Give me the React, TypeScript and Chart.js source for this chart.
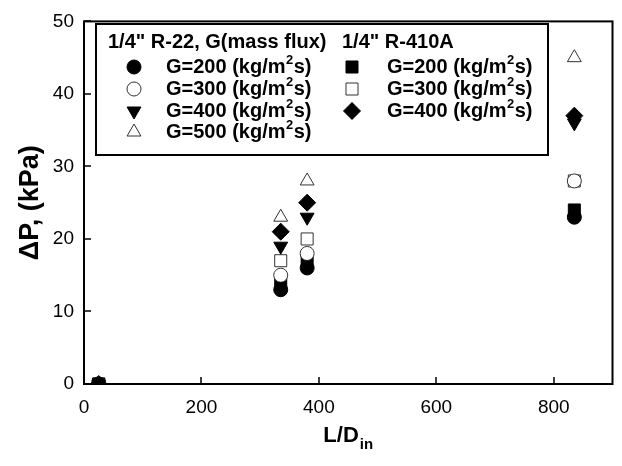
import React, { useEffect, useRef } from 'react';
import { Chart, registerables } from 'chart.js';

Chart.register(...registerables);

// ---- data ----
const X_POS = [25, 335, 380, 835];
const R22_G200 = [0, 13, 16, 23];
const R22_G300 = [0, 15, 18, 28];
const R22_G400 = [0, 19, 23, 36];
const R22_G500 = [0, 23, 28, 45];
const R410A_G200 = [0, 14, 17, 24];
const R410A_G300 = [0, 17, 20, 28];
const R410A_G400 = [0, 21, 25, 37];
const X_TICKS = [0, 200, 400, 600, 800];
const Y_TICKS = [0, 10, 20, 30, 40, 50];
const LEGEND_TITLES = ['1/4" R-22, G(mass flux)', '1/4" R-410A'];
const LEGEND_R22 = ['G=200', 'G=300', 'G=400', 'G=500'];
const LEGEND_R410A = ['G=200', 'G=300', 'G=400'];
const UNIT_MAIN = ' (kg/m';
const UNIT_SUP = '2';
const UNIT_END = 's)';

type Marker = { style: string; rotation: number; filled: boolean; radius: number };

const M_CIRCLE_F: Marker = { style: 'circle', rotation: 0, filled: true, radius: 7 };
const M_CIRCLE_O: Marker = { style: 'circle', rotation: 0, filled: false, radius: 7 };
const M_TRI_DOWN_F: Marker = { style: 'triangle', rotation: 180, filled: true, radius: 8 };
const M_TRI_UP_O: Marker = { style: 'triangle', rotation: 0, filled: false, radius: 8 };
const M_SQ_F: Marker = { style: 'rect', rotation: 0, filled: true, radius: 8.5 };
const M_SQ_O: Marker = { style: 'rect', rotation: 0, filled: false, radius: 8.5 };
const M_DIA_F: Marker = { style: 'rectRot', rotation: 0, filled: true, radius: 8.5 };

const SERIES = [
  { label: 'R-22 G=200', values: R22_G200, marker: M_CIRCLE_F },
  { label: 'R-22 G=300', values: R22_G300, marker: M_CIRCLE_O },
  { label: 'R-22 G=400', values: R22_G400, marker: M_TRI_DOWN_F },
  { label: 'R-22 G=500', values: R22_G500, marker: M_TRI_UP_O },
  { label: 'R-410A G=200', values: R410A_G200, marker: M_SQ_F },
  { label: 'R-410A G=300', values: R410A_G300, marker: M_SQ_O },
  { label: 'R-410A G=400', values: R410A_G400, marker: M_DIA_F },
];

const FONT = '"Liberation Sans", Arial, sans-serif';
const OPEN_STROKE = '#333';

function drawMarker(ctx: CanvasRenderingContext2D, m: Marker, x: number, y: number) {
  const r = m.radius;
  const rad = (m.rotation * Math.PI) / 180;
  ctx.save();
  ctx.beginPath();
  if (m.style === 'circle') {
    ctx.arc(x, y, r, 0, Math.PI * 2);
  } else if (m.style === 'rect') {
    const s = Math.SQRT1_2 * r;
    ctx.rect(x - s, y - s, 2 * s, 2 * s);
  } else if (m.style === 'rectRot') {
    ctx.moveTo(x - r, y);
    ctx.lineTo(x, y - r);
    ctx.lineTo(x + r, y);
    ctx.lineTo(x, y + r);
    ctx.closePath();
  } else if (m.style === 'triangle') {
    let a = rad;
    ctx.moveTo(x + Math.sin(a) * r, y - Math.cos(a) * r);
    a += (2 * Math.PI) / 3;
    ctx.lineTo(x + Math.sin(a) * r, y - Math.cos(a) * r);
    a += (2 * Math.PI) / 3;
    ctx.lineTo(x + Math.sin(a) * r, y - Math.cos(a) * r);
    ctx.closePath();
  }
  ctx.fillStyle = m.filled ? '#000' : '#fff';
  ctx.strokeStyle = m.filled ? '#000' : OPEN_STROKE;
  ctx.lineWidth = 1;
  ctx.fill();
  ctx.stroke();
  ctx.restore();
}

function drawUnitLabel(ctx: CanvasRenderingContext2D, head: string, x: number, y: number) {
  ctx.save();
  ctx.fillStyle = '#000';
  ctx.textBaseline = 'middle';
  ctx.textAlign = 'left';
  ctx.font = `bold 20px ${FONT}`;
  const t1 = head + UNIT_MAIN;
  ctx.fillText(t1, x, y);
  let cx = x + ctx.measureText(t1).width;
  ctx.font = `bold 13px ${FONT}`;
  ctx.fillText(UNIT_SUP, cx + 0.5, y - 7);
  cx += ctx.measureText(UNIT_SUP).width + 1;
  ctx.font = `bold 20px ${FONT}`;
  ctx.fillText(UNIT_END, cx, y);
  ctx.restore();
}

const decorPlugin = {
  id: 'decor',
  beforeDatasetsDraw(chart: any) {
    const { ctx, chartArea: a, scales } = chart;
    ctx.save();
    ctx.strokeStyle = '#000';
    ctx.lineWidth = 2;
    ctx.strokeRect(a.left, a.top, a.right - a.left, a.bottom - a.top);
    ctx.lineWidth = 1.5;
    ctx.beginPath();
    for (const v of X_TICKS) {
      const px = Math.round(scales.x.getPixelForValue(v));
      ctx.moveTo(px, a.bottom);
      ctx.lineTo(px, a.bottom - 7);
    }
    for (const v of Y_TICKS) {
      const py = Math.round(scales.y.getPixelForValue(v));
      ctx.moveTo(a.left, py);
      ctx.lineTo(a.left + 7, py);
    }
    ctx.stroke();
    ctx.restore();
  },
  afterDraw(chart: any) {
    const { ctx, chartArea: a } = chart;
    ctx.save();
    // Axis titles
    ctx.fillStyle = '#000';
    ctx.font = `bold 22px ${FONT}`;
    ctx.textBaseline = 'middle';
    // x title: L/D with subscript "in"
    const main = 'L/D';
    const sub = 'in';
    const wMain = ctx.measureText(main).width;
    ctx.font = `bold 15px ${FONT}`;
    const wSub = ctx.measureText(sub).width;
    const cx = (a.left + a.right) / 2;
    const sx = cx - (wMain + wSub + 1) / 2;
    ctx.font = `bold 22px ${FONT}`;
    ctx.textAlign = 'left';
    ctx.fillText(main, sx, 436);
    ctx.font = `bold 15px ${FONT}`;
    ctx.fillText(sub, sx + wMain + 1, 445);
    // y title
    ctx.save();
    ctx.translate(31, (a.top + a.bottom) / 2);
    ctx.rotate(-Math.PI / 2);
    ctx.textAlign = 'center';
    ctx.font = `bold 27px ${FONT}`;
    ctx.fillText('\u0394P, (kPa)', 0, 0);
    ctx.restore();

    // Legend box
    const L = 96, T = 24, R = 548, B = 155;
    ctx.fillStyle = '#fff';
    ctx.fillRect(L, T, R - L, B - T);
    ctx.strokeStyle = '#000';
    ctx.lineWidth = 2;
    ctx.strokeRect(L, T, R - L, B - T);
    ctx.fillStyle = '#000';
    ctx.font = `bold 20px ${FONT}`;
    ctx.textAlign = 'left';
    ctx.fillText(LEGEND_TITLES[0], 108, 42);
    ctx.fillText(LEGEND_TITLES[1], 342, 42);
    const rows = [67, 89, 111, 132];
    const r22Markers = [M_CIRCLE_F, M_CIRCLE_O, M_TRI_DOWN_F, M_TRI_UP_O];
    const r410Markers = [M_SQ_F, M_SQ_O, M_DIA_F];
    LEGEND_R22.forEach((t, i) => {
      drawMarker(ctx, r22Markers[i], 134, rows[i]);
      drawUnitLabel(ctx, t, 166, rows[i]);
    });
    LEGEND_R410A.forEach((t, i) => {
      drawMarker(ctx, r410Markers[i], 352, rows[i]);
      drawUnitLabel(ctx, t, 387, rows[i]);
    });
    ctx.restore();
  },
};

export default function App() {
  const ref = useRef<HTMLCanvasElement | null>(null);
  useEffect(() => {
    if (!ref.current) return;
    const chart = new Chart(ref.current, {
      type: 'scatter',
      data: {
        datasets: SERIES.map((s) => ({
          label: s.label,
          data: s.values.map((v, i) => ({ x: X_POS[i], y: v })),
          pointStyle: s.marker.style as any,
          pointRadius: s.marker.radius,
          pointRotation: s.marker.rotation,
          backgroundColor: s.marker.filled ? '#000' : '#fff',
          borderColor: s.marker.filled ? '#000' : OPEN_STROKE,
          borderWidth: 1,
          showLine: false,
        })),
      },
      options: {
        animation: false,
        responsive: false,
        layout: { padding: { top: 15, right: 8, left: 0, bottom: 0 } },
        plugins: { legend: { display: false }, tooltip: { enabled: false } },
        scales: {
          x: {
            type: 'linear',
            min: 0,
            max: 900,
            afterBuildTicks: (axis: any) => {
              axis.ticks = X_TICKS.map((v) => ({ value: v }));
            },
            afterFit: (axis: any) => {
              axis.height = 82;
            },
            grid: { display: false, drawTicks: false },
            border: { display: false },
            ticks: { color: '#000', font: { family: FONT, size: 19 }, padding: 12, maxRotation: 0 },
          },
          y: {
            type: 'linear',
            min: 0,
            max: 50,
            afterBuildTicks: (axis: any) => {
              axis.ticks = Y_TICKS.map((v) => ({ value: v }));
            },
            afterFit: (axis: any) => {
              axis.width = 84;
            },
            grid: { display: false, drawTicks: false },
            border: { display: false },
            ticks: { color: '#000', font: { family: FONT, size: 19 }, padding: 10 },
          },
        },
      },
      plugins: [decorPlugin],
    });
    return () => chart.destroy();
  }, []);
  return (
    <div style={{ position: 'fixed', left: 0, top: 0, width: 622, height: 466, background: '#fff' }}>
      <canvas ref={ref} width={622} height={466} />
    </div>
  );
}
